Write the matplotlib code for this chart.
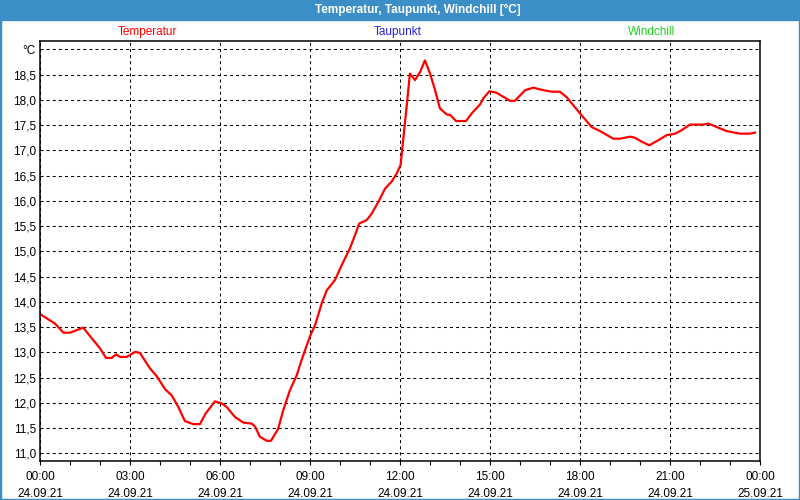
import numpy as np
import pandas as pd
import matplotlib
matplotlib.use('Agg')
import matplotlib.pyplot as plt
import matplotlib.dates as mdates
from matplotlib.patches import Rectangle

# hours after 24.09.21 00:00 and temperature in °C
hours = [0.0, 0.5, 0.78, 1.0, 1.44, 1.78, 2.0, 2.2, 2.39, 2.53, 2.67, 2.89,
         3.17, 3.33, 3.67, 3.89, 4.17, 4.39, 4.61, 4.83, 5.11, 5.33, 5.52, 5.83,
         6.06, 6.22, 6.5, 6.78, 7.06, 7.17, 7.33, 7.56, 7.7, 7.94, 8.11, 8.33,
         8.56, 8.72, 9.0, 9.17, 9.39, 9.56, 9.83, 10.06, 10.33, 10.5, 10.64,
         10.89, 11.06, 11.28, 11.5, 11.72, 11.89, 12.02, 12.11, 12.22, 12.33,
         12.5, 12.67, 12.83, 13.0, 13.17, 13.33, 13.56, 13.67, 13.87, 14.2,
         14.39, 14.67, 14.78, 14.98, 15.22, 15.44, 15.67, 15.83, 16.17, 16.44,
         16.78, 17.06, 17.33, 17.56, 18.0, 18.39, 18.67, 19.11, 19.33, 19.67,
         19.83, 20.06, 20.31, 20.61, 20.89, 21.17, 21.39, 21.67, 22.11, 22.28,
         22.56, 22.89, 23.33, 23.67, 23.83]
temperatur = [13.76, 13.57, 13.39, 13.39, 13.49, 13.24, 13.08, 12.89, 12.89,
              12.96, 12.91, 12.91, 13.01, 12.99, 12.68, 12.53, 12.27, 12.15,
              11.92, 11.64, 11.58, 11.58, 11.79, 12.03, 11.99, 11.92, 11.72,
              11.61, 11.59, 11.53, 11.33, 11.25, 11.25, 11.49, 11.86, 12.25,
              12.55, 12.85, 13.32, 13.54, 13.97, 14.23, 14.43, 14.73, 15.06,
              15.32, 15.55, 15.62, 15.75, 15.98, 16.24, 16.38, 16.54, 16.71,
              17.23, 17.86, 18.52, 18.39, 18.55, 18.78, 18.52, 18.19, 17.83,
              17.71, 17.70, 17.58, 17.58, 17.73, 17.91, 18.03, 18.17, 18.14,
              18.06, 17.98, 17.98, 18.19, 18.24, 18.19, 18.16, 18.16, 18.05,
              17.73, 17.46, 17.38, 17.23, 17.23, 17.27, 17.25, 17.17, 17.10,
              17.20, 17.30, 17.33, 17.40, 17.51, 17.51, 17.53, 17.46, 17.38,
              17.33, 17.33, 17.35]

legend_names = ['Temperatur', 'Taupunkt', 'Windchill']
legend_colors = ['#ff0000', '#2424d8', '#22d022']

yticks = np.arange(11.0, 19.01, 0.5)
ylabels = [f'{v:.1f}'.replace('.', ',') for v in yticks]
ylabels[-1] = '°C'

start = pd.Timestamp('2021-09-24 00:00')
times = start + pd.to_timedelta(hours, unit='h')

plt.rcParams['font.family'] = ['Liberation Sans', 'DejaVu Sans']
plt.rcParams['lines.scale_dashes'] = False

fig = plt.figure(figsize=(8, 5), dpi=100)
ax = fig.add_axes([0.05, 0.078, 0.90, 0.8406])

ax.plot(times, temperatur, color='#ff0000', lw=1.6)

ax.set_xlim(start, start + pd.Timedelta(hours=24))
ax.set_ylim(10.85, 19.17)
ax.set_yticks(yticks)
ax.set_yticklabels(ylabels)

ax.xaxis.set_major_locator(mdates.HourLocator(byhour=range(0, 24, 3)))
ax.xaxis.set_minor_locator(mdates.HourLocator())
ax.xaxis.set_major_formatter(mdates.DateFormatter('%H:%M\n%d.%m.%y'))

ax.grid(True, which='major', color='black', lw=0.75, linestyle=(0, (2.2, 2.2)))
ax.tick_params(axis='x', which='both', direction='out', length=3, width=0.8,
               labelsize=8.5, pad=4)
ax.tick_params(axis='y', length=0, labelsize=8.5, pad=3)
for lab in ax.get_xticklabels():
    lab.set_linespacing(1.55)
for s in ax.spines.values():
    s.set_linewidth(1.1)

# window title bar + border
fig.patches.append(Rectangle((0, 1 - 20 / 500), 1, 20 / 500, transform=fig.transFigure,
                             color='#3c8fc6', zorder=0))
fig.patches.append(Rectangle((0, 0), 1, 1, transform=fig.transFigure, fill=False,
                             edgecolor='#3c8fc6', lw=2.5, zorder=0))
fig.text(418 / 800, 1 - 10 / 500, 'Temperatur, Taupunkt, Windchill [°C]', color='white',
         fontsize=8.5, fontweight='bold', ha='center', va='center')

for name, col, xc in zip(legend_names, legend_colors, [147, 398, 652]):
    fig.text(xc / 800, 1 - 32 / 500, name, color=col, fontsize=8.5, ha='center', va='center')

fig.savefig('out.png', dpi=100)
